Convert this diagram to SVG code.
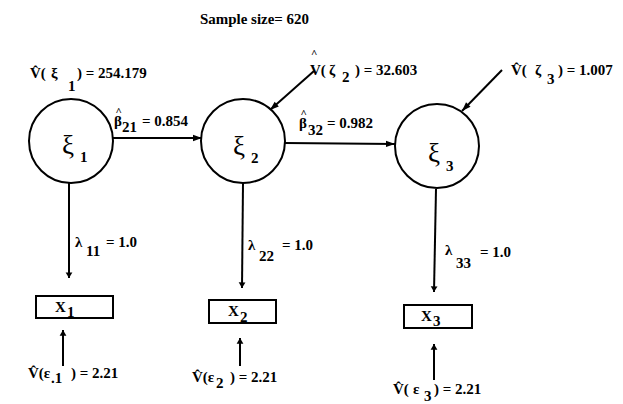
<svg xmlns="http://www.w3.org/2000/svg" width="623" height="404" viewBox="0 0 623 404">
<defs>
<marker id="ah" viewBox="0 0 10 10" refX="10" refY="5" markerWidth="11" markerHeight="9" markerUnits="userSpaceOnUse" orient="auto">
<path d="M0,1.5 L10,5 L0,8.5 z" fill="#000"/>
</marker>
<marker id="ahv" viewBox="0 0 10 16" refX="10" refY="8" markerWidth="16" markerHeight="9" markerUnits="userSpaceOnUse" orient="auto">
<path d="M0,2 L10,8 L0,14 z" fill="#000"/>
</marker>
</defs>
<style>
text{font-family:"Liberation Serif","Times New Roman",serif;font-weight:bold;font-size:15px;fill:#000}
.big{font-size:27px;font-weight:normal}
.hat{font-size:11px}
.n circle,.n rect{fill:#fff;stroke:#000;stroke-width:2}
.c line{stroke:#000;stroke-width:2;marker-end:url(#ah)}
.c line.v{marker-end:url(#ahv)}
</style>
<rect width="623" height="404" fill="#fff"/>
<text x="200" y="24" textLength="109" lengthAdjust="spacingAndGlyphs">Sample size= 620</text>

<g class="c">
<line x1="113" y1="138" x2="202" y2="138"/>
<line x1="285" y1="143" x2="395" y2="144"/>
<line x1="314" y1="71" x2="270" y2="110"/>
<line x1="502" y1="70" x2="462" y2="111"/>
<line class="v" x1="69" y1="183" x2="69" y2="278"/>
<line class="v" x1="243" y1="183" x2="242" y2="288"/>
<line class="v" x1="436" y1="189" x2="434" y2="292"/>
<line class="v" x1="63" y1="366" x2="63" y2="330"/>
<line class="v" x1="240" y1="366" x2="240" y2="338"/>
<line class="v" x1="434" y1="380" x2="434" y2="344"/>
</g>

<g id="xi1" class="n">
<circle cx="71" cy="141" r="42"/>
<text><tspan class="big" x="62" y="154">ξ</tspan><tspan x="80" y="162">1</tspan></text>
</g>
<g id="xi2" class="n">
<circle cx="243" cy="141" r="42"/>
<text><tspan class="big" x="233" y="155">ξ</tspan><tspan x="251" y="163">2</tspan></text>
</g>
<g id="xi3" class="n">
<circle cx="437" cy="146" r="42"/>
<text><tspan class="big" x="428" y="162">ξ</tspan><tspan x="446" y="171">3</tspan></text>
</g>
<g id="x1" class="n">
<rect x="36" y="296" width="77" height="22"/>
<text><tspan x="55" y="312">X</tspan><tspan x="67" y="317">1</tspan></text>
</g>
<g id="x2" class="n">
<rect x="209" y="300" width="67" height="23"/>
<text><tspan x="228" y="316">X</tspan><tspan x="240" y="322">2</tspan></text>
</g>
<g id="x3" class="n">
<rect x="404" y="305" width="68" height="23"/>
<text><tspan x="421" y="321">X</tspan><tspan x="433" y="326">3</tspan></text>
</g>

<g id="labels">
<text><tspan x="30" y="78">V̂(</tspan><tspan x="51" y="78">ξ</tspan><tspan x="68" y="91">1</tspan><tspan x="77" y="78">) = 254.179</tspan></text>
<text><tspan class="hat" x="115.5" y="115">^</tspan><tspan x="114" y="126">β</tspan><tspan x="122" y="132">21</tspan><tspan x="142" y="126">= 0.854</tspan></text>
<text><tspan class="hat" x="300.5" y="117">^</tspan><tspan x="299" y="128">β</tspan><tspan x="308" y="135">32</tspan><tspan x="327" y="128">= 0.982</tspan></text>
<text><tspan class="hat" x="311" y="57">^</tspan><tspan x="310" y="75">V(</tspan><tspan x="329" y="75">ζ</tspan><tspan x="342" y="82">2</tspan><tspan x="355" y="75">) = 32.603</tspan></text>
<text><tspan x="511" y="75">V̂(</tspan><tspan x="535" y="75">ζ</tspan><tspan x="547" y="84">3</tspan><tspan x="558" y="75">) = 1.007</tspan></text>
<text><tspan x="75" y="247">λ</tspan><tspan x="86" y="256">11</tspan><tspan x="106" y="247">= 1.0</tspan></text>
<text><tspan x="248" y="250">λ</tspan><tspan x="259" y="261">22</tspan><tspan x="282" y="250">= 1.0</tspan></text>
<text><tspan x="445" y="255">λ</tspan><tspan x="456" y="268">33</tspan><tspan x="480" y="257">= 1.0</tspan></text>
<text><tspan x="28" y="378">V̂(ε</tspan><tspan x="51" y="383">.1</tspan><tspan x="71" y="378">) = 2.21</tspan></text>
<text><tspan x="192" y="382">V̂(ε</tspan><tspan x="216" y="388">2</tspan><tspan x="230" y="382">) = 2.21</tspan></text>
<text><tspan x="393" y="394">V̂(</tspan><tspan x="413" y="394">ε</tspan><tspan x="424" y="401">3</tspan><tspan x="434" y="394">) = 2.21</tspan></text>
</g>
</svg>
